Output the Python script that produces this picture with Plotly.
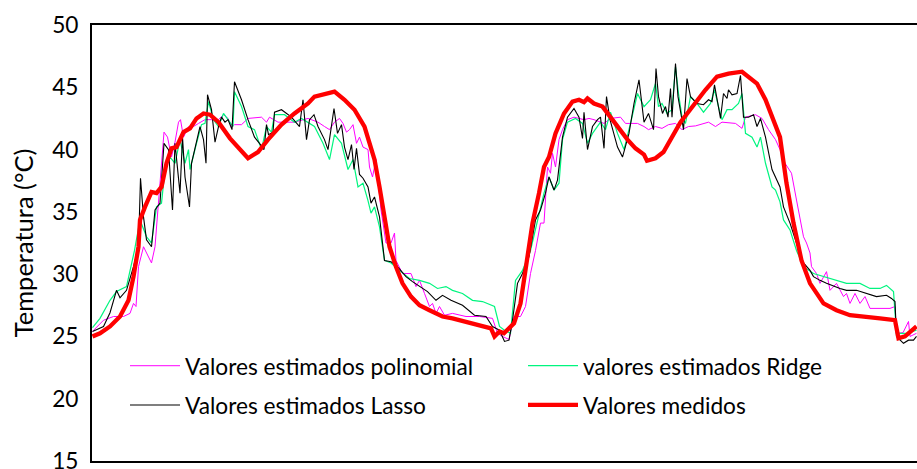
import plotly.graph_objects as go

# ---------------- data (time step, temperature °C) ----------------
t_poli = [0.1, 2.3, 4.3, 6.3, 7.6, 8.3, 8.8, 9.3, 10.3, 11.3, 11.9, 12.6, 13.3, 13.9, 14.4, 15.1, 15.9, 16.6, 17.3, 17.7,
          18.3, 19.3, 20.3, 21.3, 22.6, 25.3, 26.3, 27.2, 27.9, 28.5, 29.9, 31.2, 33.9, 34.9, 35.5, 37.2, 40.5, 43.2, 45.2,
          46.5, 47.5, 48.5, 49.5, 50.2, 50.9, 51.5, 52.2, 52.9, 53.5, 54.2, 55.2, 55.5, 56.1, 56.8, 57.8, 58.8, 59.8, 60.5,
          60.8, 62.1, 63.8, 64.8, 65.5, 66.5, 67.5, 68.1, 68.8, 69.5, 70.5, 72.1, 74.8, 77.5, 80.1, 81.1, 82.1, 83.4, 84.4,
          85.7, 86.7, 87.7, 88.7, 89.7, 90.4, 91.1, 91.7, 92.1, 92.7, 93.4, 94.1, 95.1, 96.4, 98.4, 99.4, 100.4, 102.4,
          103.7, 105.7, 106.7, 109.1, 110.4, 111.3, 112.7, 114.0, 115.3, 116.7, 118.0, 119.3, 120.7, 123.3, 124.7, 126.0,
          128.7, 130.0, 130.7, 132.7, 134.0, 135.3, 136.7, 137.6, 138.6, 139.9, 140.9, 142.3, 142.9, 143.6, 143.9, 144.9,
          145.6, 146.9, 147.6, 148.9, 150.3, 150.9, 151.6, 152.6, 153.6, 154.6, 155.6, 157.6, 159.6, 160.6, 160.9, 162.2,
          163.3, 163.6, 164.9]
v_poli = [25.4, 26.3, 26.6, 26.6, 26.85, 27.65, 27.4, 30.6, 32.2, 31.4, 30.9, 32.2, 35.95, 38.4, 41.4, 41.0, 39.4, 40.6,
          42.2, 42.4, 41.0, 41.85, 41.85, 42.1, 42.4, 42.4, 42.8, 42.5, 41.85, 42.0, 42.0, 42.5, 42.6, 42.2, 42.6, 42.2,
          42.2, 42.5, 42.2, 41.85, 41.6, 42.2, 42.5, 42.1, 41.4, 41.6, 42.0, 40.5, 41.0, 40.2, 40.0, 38.6, 37.8, 39.2, 35.15,
          32.5, 32.5, 33.3, 31.1, 30.05, 30.05, 29.0, 29.5, 28.45, 27.4, 27.65, 26.85, 27.4, 26.7, 26.85, 26.6, 26.6, 26.45,
          25.25, 25.0, 24.75, 26.6, 26.6, 27.4, 30.05, 31.9, 34.1, 34.1, 38.6, 38.1, 39.7, 38.6, 40.8, 41.6, 42.4, 42.6,
          42.4, 42.5, 42.4, 42.1, 42.5, 42.6, 42.1, 42.1, 41.85, 41.6, 41.85, 41.7, 42.0, 42.1, 41.6, 41.85, 41.9, 42.2,
          41.85, 42.2, 42.1, 41.7, 42.6, 42.8, 42.5, 41.6, 40.8, 40.0, 38.9, 38.1, 35.95, 33.0, 32.5, 31.7, 30.6, 30.05,
          29.26, 30.2, 28.7, 29.26, 28.2, 28.45, 27.65, 28.45, 27.65, 28.2, 27.25, 27.25, 27.25, 27.4, 25.25, 25.3, 26.2,
          25.0, 25.25]

t_ridge = [0.1, 1.6, 3.6, 4.9, 6.9, 8.5, 9.6, 10.9, 11.9, 12.9, 13.9, 14.6, 15.6, 16.6, 17.6, 18.6, 19.3, 19.6, 20.9,
           21.9, 22.6, 23.3, 24.3, 25.3, 26.3, 27.2, 28.2, 28.5, 29.9, 31.2, 32.5, 33.9, 34.9, 35.9, 36.5, 38.5, 40.5,
           41.9, 43.2, 44.5, 46.2, 47.5, 48.5, 49.9, 51.2, 52.2, 53.2, 54.2, 55.2, 55.8, 56.5, 57.5, 58.5, 59.8, 61.5,
           63.5, 65.5, 67.5, 69.1, 70.8, 72.1, 74.1, 76.1, 78.1, 80.5, 81.5, 82.5, 83.7, 84.7, 86.1, 87.7, 89.1, 90.4,
           91.4, 92.4, 93.4, 94.1, 95.1, 96.7, 98.1, 99.1, 100.1, 101.7, 102.7, 103.7, 105.1, 106.4, 107.7, 109.1, 110.4,
           111.7, 112.7, 113.3, 114.0, 115.0, 116.0, 116.7, 117.3, 118.0, 118.7, 119.7, 121.0, 122.3, 123.7, 124.5, 125.3,
           126.0, 127.0, 128.0, 129.3, 130.0, 130.7, 132.0, 133.0, 133.7, 134.7, 136.0, 136.7, 137.6, 138.3, 139.6, 140.9,
           142.3, 144.3, 146.3, 148.9, 150.9, 153.6, 155.6, 157.6, 158.9, 160.3, 160.9, 162.9, 164.9]
v_ridge = [25.7, 26.45, 27.9, 28.6, 29.0, 31.9, 34.35, 33.0, 32.5, 35.4, 35.7, 38.4, 39.4, 38.9, 40.8, 38.9, 40.0, 38.4,
           40.5, 42.0, 42.1, 43.85, 42.4, 41.85, 42.9, 42.4, 41.85, 44.65, 43.45, 41.85, 41.6, 40.0, 41.85, 41.4, 42.8,
           42.8, 42.2, 42.5, 42.2, 41.85, 40.5, 39.2, 41.2, 40.5, 38.4, 39.2, 37.0, 37.3, 35.9, 34.9, 35.4, 33.8, 31.1,
           30.9, 30.3, 29.65, 29.5, 29.26, 28.85, 29.0, 28.7, 28.45, 27.9, 27.8, 27.4, 25.8, 25.5, 25.25, 29.5, 30.3,
           31.9, 34.35, 36.5, 37.8, 36.75, 37.3, 40.8, 42.2, 42.5, 42.1, 40.5, 41.3, 42.2, 41.6, 43.0, 41.3, 40.0, 42.1,
           44.5, 43.45, 44.0, 45.3, 43.45, 43.7, 42.9, 43.2, 46.65, 44.5, 42.6, 42.1, 44.25, 43.7, 43.0, 43.7, 44.8,
           43.45, 42.4, 43.2, 43.2, 43.7, 44.5, 41.3, 41.0, 40.2, 41.0, 38.9, 37.0, 36.75, 35.8, 34.35, 33.55, 31.9,
           30.6, 30.05, 29.8, 29.5, 29.26, 29.26, 28.85, 28.85, 29.1, 28.6, 25.25, 25.25, 25.5]

t_lasso = [0.1, 2.3, 3.6, 4.9, 5.6, 6.9, 8.3, 9.3, 9.7, 10.3, 10.9, 11.9, 12.6, 13.6, 14.4, 15.3, 16.1, 16.6, 17.6, 18.1,
           18.6, 19.5, 19.9, 20.9, 21.6, 22.3, 22.8, 23.1, 23.9, 24.6, 25.3, 25.9, 26.6, 27.2, 28.0, 28.5, 29.9, 31.2,
           32.5, 33.5, 34.4, 34.9, 35.3, 36.2, 36.5, 37.9, 39.9, 41.5, 42.2, 42.9, 43.5, 44.4, 45.2, 46.5, 47.2, 48.4,
           49.1, 49.9, 50.5, 51.2, 51.9, 52.4, 52.9, 53.5, 54.2, 55.2, 55.8, 56.5, 57.5, 58.5, 59.8, 61.1, 62.8, 64.1,
           65.5, 67.1, 68.8, 70.1, 71.8, 74.1, 76.5, 78.8, 80.1, 81.5, 82.5, 83.4, 84.1, 85.1, 86.1, 87.4, 88.7, 89.7,
           90.7, 91.4, 92.4, 93.1, 94.1, 95.1, 96.4, 97.4, 98.1, 98.4, 99.1, 100.1, 101.1, 101.7, 102.4, 102.9, 103.6,
           104.4, 105.1, 106.1, 107.4, 108.4, 109.4, 110.4, 111.3, 112.3, 112.8, 113.3, 114.1, 114.7, 115.2, 115.7,
           116.0, 116.7, 117.2, 117.9, 118.3, 119.0, 119.7, 121.0, 122.3, 123.3, 124.0, 124.5, 125.0, 125.7, 126.3,
           127.0, 127.3, 128.0, 129.0, 129.7, 130.3, 131.3, 132.3, 133.0, 133.7, 134.7, 136.0, 136.7, 137.6, 138.3,
           139.6, 140.9, 142.3, 143.6, 144.3, 145.6, 146.9, 149.6, 150.9, 152.9, 154.9, 156.9, 158.9, 159.9, 160.6,
           160.9, 162.3, 163.3, 164.3, 164.9]
v_lasso = [25.4, 25.8, 26.9, 28.7, 28.1, 28.7, 30.6, 32.2, 37.7, 34.6, 32.75, 32.2, 35.15, 35.7, 40.5, 40.0, 35.15, 40.5,
           36.5, 41.0, 37.8, 35.4, 38.9, 40.5, 41.85, 40.8, 38.9, 44.4, 43.2, 40.6, 41.85, 42.6, 42.2, 42.4, 41.6, 45.45,
           44.0, 42.4, 41.0, 40.5, 40.0, 42.0, 41.2, 41.4, 43.0, 43.2, 42.6, 41.85, 44.0, 40.8, 42.4, 42.8, 41.85, 40.8,
           40.0, 43.3, 41.3, 42.0, 40.2, 39.2, 40.4, 38.4, 40.1, 38.0, 37.7, 37.0, 35.7, 36.2, 34.6, 31.1, 31.0, 30.6,
           29.8, 29.4, 29.0, 28.6, 27.9, 28.3, 27.9, 27.5, 26.7, 26.6, 25.8, 25.5, 24.6, 24.7, 26.3, 29.26, 30.05, 31.4,
           34.35, 35.15, 36.5, 37.8, 36.75, 37.55, 41.0, 42.6, 43.3, 42.6, 40.9, 43.0, 40.0, 41.85, 42.4, 42.6, 40.1,
           44.25, 42.4, 41.3, 40.2, 39.4, 41.3, 43.7, 45.6, 42.2, 42.9, 41.6, 46.5, 44.25, 42.9, 43.45, 42.6, 44.9, 42.6,
           46.9, 44.25, 42.6, 41.6, 45.7, 44.25, 43.7, 43.6, 44.0, 43.85, 45.2, 44.0, 42.5, 44.5, 44.1, 44.8, 44.4, 44.5,
           45.95, 42.6, 42.6, 42.8, 41.85, 42.5, 41.0, 38.4, 37.8, 37.0, 35.4, 34.1, 32.5, 30.9, 30.3, 29.8, 29.5, 29.26,
           28.85, 28.7, 28.7, 28.45, 28.2, 28.3, 28.05, 27.8, 25.0, 24.45, 24.7, 24.7, 25.0]

t_medidos = [0.1, 1.6, 3.6, 5.6, 7.3, 8.3, 9.3, 9.6, 10.6, 11.9, 12.9, 13.9, 14.9, 15.9, 16.9, 18.3, 19.6, 20.9, 22.3,
             23.6, 25.3, 27.6, 31.2, 33.2, 35.2, 37.9, 40.5, 43.2, 44.5, 48.5, 50.5, 52.5, 54.5, 56.5, 57.5, 58.5, 59.5,
             60.8, 62.1, 63.8, 65.5, 67.5, 70.1, 72.1, 74.8, 77.5, 79.8, 80.5, 81.5, 82.4, 84.4, 85.7, 87.1, 88.1, 89.4,
             90.4, 91.4, 92.7, 94.4, 96.1, 97.4, 98.4, 99.1, 100.4, 102.1, 103.7, 105.4, 107.1, 108.7, 110.4, 111.0,
             112.7, 114.3, 116.0, 117.7, 120.0, 122.7, 125.0, 127.3, 130.0, 131.3, 133.0, 134.7, 136.3, 137.6, 138.9,
             140.3, 141.9, 143.6, 146.3, 148.9, 151.6, 154.9, 157.6, 160.6, 161.3, 162.6, 164.9]
v_medidos = [25.0, 25.25, 25.8, 26.6, 27.9, 29.8, 32.2, 34.35, 35.4, 36.6, 36.5, 37.0, 38.9, 40.1, 40.2, 41.4, 41.7, 42.5,
             42.9, 42.8, 42.2, 40.9, 39.3, 39.8, 40.8, 42.0, 42.9, 43.7, 44.25, 44.65, 44.0, 43.2, 41.85, 39.2, 37.0,
             34.35, 32.2, 30.6, 29.26, 28.2, 27.5, 27.1, 26.6, 26.45, 26.2, 25.9, 25.65, 25.0, 25.4, 25.25, 26.05, 27.65,
             31.4, 34.1, 36.5, 38.6, 39.4, 41.3, 42.9, 43.85, 44.0, 43.8, 44.1, 43.7, 43.45, 42.6, 41.6, 40.8, 40.1, 39.6,
             39.1, 39.3, 39.8, 41.0, 42.2, 43.4, 44.8, 45.85, 46.1, 46.25, 45.85, 45.3, 44.0, 42.3, 41.0, 37.3, 34.1,
             31.1, 29.26, 27.65, 27.1, 26.7, 26.6, 26.45, 26.3, 24.85, 25.0, 25.8]

y_ticks = [15, 20, 25, 30, 35, 40, 45, 50]

names = ["Valores estimados polinomial", "valores estimados Ridge",
         "Valores estimados Lasso", "Valores medidos"]

FONT = "Lato"
FS = 22.7

fig = go.Figure()
fig.add_trace(go.Scatter(x=t_poli, y=v_poli, mode="lines", name=names[0],
                         line=dict(color="#FF00FF", width=1), legend="legend"))
fig.add_trace(go.Scatter(x=t_ridge, y=v_ridge, mode="lines", name=names[1],
                         line=dict(color="#00F57F", width=1.2), legend="legend"))
fig.add_trace(go.Scatter(x=t_lasso, y=v_lasso, mode="lines", name=names[2],
                         line=dict(color="#000000", width=1.1), legend="legend2"))
fig.add_trace(go.Scatter(x=t_medidos, y=v_medidos, mode="lines", name=names[3],
                         line=dict(color="#FF0000", width=4.3), legend="legend2"))

leg_common = dict(orientation="h", xanchor="left", yanchor="middle",
                  font=dict(family=FONT, size=FS, color="#000000"),
                  bgcolor="rgba(0,0,0,0)", borderwidth=0,
                  entrywidth=333, entrywidthmode="pixels", itemwidth=50,
                  itemclick=False, itemdoubleclick=False)

fig.update_layout(
    width=917, height=469,
    margin=dict(l=92, r=0, t=25, b=8, autoexpand=False),
    paper_bgcolor="white", plot_bgcolor="white",
    font=dict(family=FONT, size=FS, color="#000000"),
    showlegend=True,
    hovermode=False,
    legend=dict(x=0.04, y=0.218, **leg_common),
    legend2=dict(x=0.04, y=0.128, **leg_common),
    xaxis=dict(range=[0, 165], showline=True, linecolor="#000000", linewidth=2,
               mirror=True, showgrid=False, zeroline=False, showticklabels=False, ticks=""),
    yaxis=dict(range=[15, 50], tickvals=y_ticks, showline=True, linecolor="#000000",
               linewidth=2, mirror=False, showgrid=False, zeroline=False, ticks="",
               ticklabelstandoff=7, automargin=False, ticklabeloverflow="allow",
               tickfont=dict(family=FONT, size=FS, color="#000000"),
               title=dict(text="Temperatura (°C)", standoff=11,
                          font=dict(family=FONT, size=25.5, color="#000000"))),
)

fig.write_html("out.html", config={"displayModeBar": False},
               post_script="document.body.style.margin='0';document.body.style.padding='0';")
